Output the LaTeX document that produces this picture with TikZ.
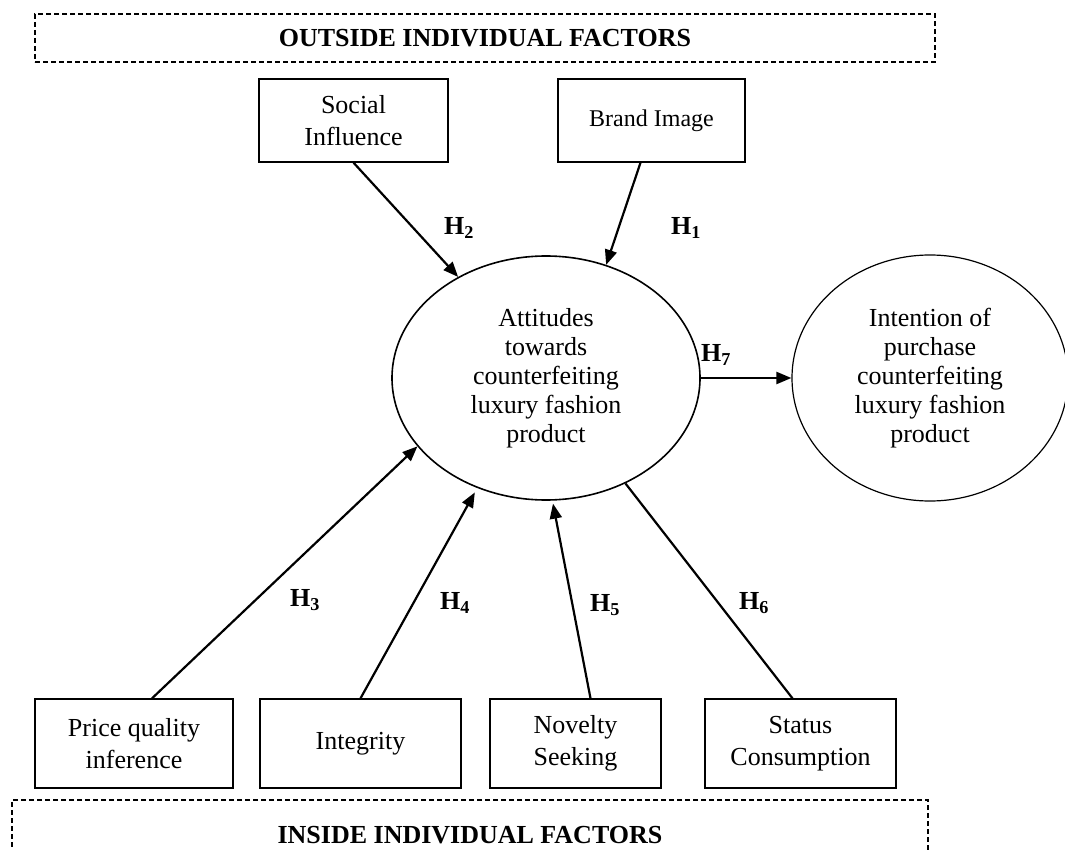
\documentclass[tikz,border=0pt]{standalone}
\usepackage{fontspec}
\setmainfont{Liberation Serif}
\usetikzlibrary{shapes.geometric,arrows.meta,calc}
\newcommand{\hname}[1]{H\textsubscript{#1}}

\begin{document}
\begin{tikzpicture}[x=1pt,y=-1pt,
    factor/.style={draw,line width=1.3pt,align=center,inner sep=0pt,font=\fontsize{26}{32}\selectfont},
    construct/.style={draw,ellipse,align=center,inner sep=0pt,font=\fontsize{26}{29}\selectfont},
    group/.style={draw,dash pattern=on 5pt off 3pt,line width=1.1pt,inner sep=0pt,font=\fontsize{26}{30}\selectfont\bfseries},
    hyp/.style={line width=2.2pt,-{Triangle[length=15pt,width=12pt]}},
    hlabel/.style={font=\fontsize{26}{30}\selectfont\bfseries}]
    \useasboundingbox (0,0) rectangle (1065,850);
    \clip (0,0) rectangle (1065,850);

    % outside / inside groups
    \node[group,minimum width=900pt,minimum height=48pt] at (485, 38) (outside) {OUTSIDE INDIVIDUAL FACTORS};
    \node[group,minimum width=916pt,minimum height=70pt] at (470, 835) (inside) {INSIDE INDIVIDUAL FACTORS};

    \node[factor,minimum width=189pt,minimum height=83pt] at (353.5, 120.5) (social) {Social\\Influence};
    \node[factor,minimum width=187pt,minimum height=83pt,font=\fontsize{24}{29}\selectfont] at (651.5, 120.5) (brand) {Brand Image};

    \node[construct,line width=1.6pt,minimum width=308pt,minimum height=244pt] at (546, 378) (att) {Attitudes\\towards\\counterfeiting\\luxury fashion\\product};
    \node[construct,line width=1.2pt,minimum width=276pt,minimum height=246pt] at (930, 378) (intent) {Intention of\\purchase\\counterfeiting\\luxury fashion\\product};

    \node[factor,minimum width=198pt,minimum height=89pt] at (134, 743.5) (price) {Price quality\\inference};
    \node[factor,minimum width=201pt,minimum height=89pt] at (360.5, 743.5) (integ) {Integrity};
    \node[factor,minimum width=171pt,minimum height=89pt] at (575.5, 743.5) (novelty) {Novelty\\Seeking};
    \node[factor,minimum width=191pt,minimum height=89pt] at (800.5, 743.5) (status) {Status\\Consumption};

    \draw[hyp] (social.south) -- (att.131);
    \draw[hyp] ($(brand.south)+(-11,0)$) -- (att.62);
    \draw[hyp] (att.east) -- (intent.west);
    \draw[hyp] ($(price.north)+(18,0)$) -- (att.208);
    \draw[hyp,shorten >=5pt] (integ.north) -- (att.238);
    \draw[hyp,shorten >=3pt] ($(novelty.north)+(15,0)$) -- (att.273);
    \draw[line width=2.2pt] ($(status.north)+(-8,0)$) -- (att.307);

    \node[hlabel] at (459, 228) (h2) {\hname{2}};
    \node[hlabel] at (686, 228) (h1) {\hname{1}};
    \node[hlabel] at (716, 355) (h7) {\hname{7}};
    \node[hlabel] at (305, 600) (h3) {\hname{3}};
    \node[hlabel] at (455, 603) (h4) {\hname{4}};
    \node[hlabel] at (605, 605) (h5) {\hname{5}};
    \node[hlabel] at (754, 603) (h6) {\hname{6}};
\end{tikzpicture}
\end{document}
